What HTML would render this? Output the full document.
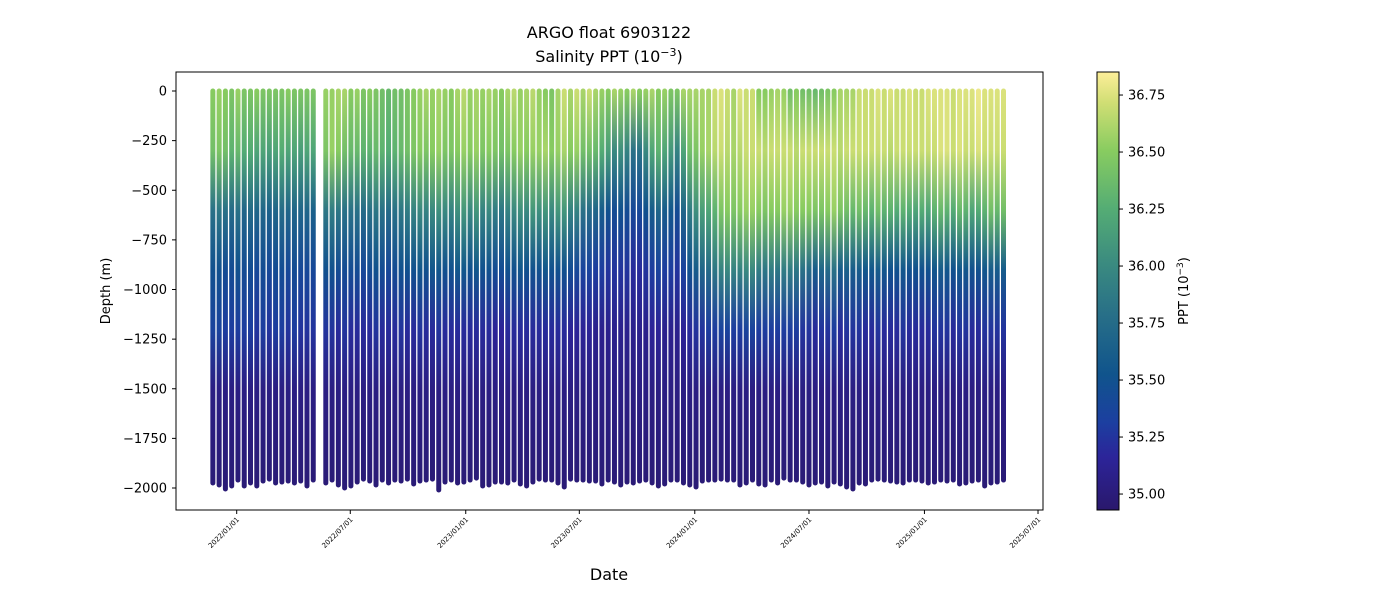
<!DOCTYPE html>
<html><head><meta charset="utf-8"><style>
body{margin:0;background:#fff;}
svg text{font-family:"DejaVu Sans","Liberation Sans",sans-serif;fill:#000;}
</style></head><body>
<svg id="chart" width="1400" height="600" viewBox="0 0 1400 600">
<defs id="defs">
<linearGradient id="cbgrad" x1="0" y1="1" x2="0" y2="0">
<stop offset="0" stop-color="#2a186c"/><stop offset="0.12" stop-color="#2c2499"/><stop offset="0.2" stop-color="#1c3fa0"/><stop offset="0.31" stop-color="#10548c"/><stop offset="0.44" stop-color="#276e88"/><stop offset="0.56" stop-color="#3a8a80"/><stop offset="0.69" stop-color="#55ad74"/><stop offset="0.82" stop-color="#88cc60"/><stop offset="0.93" stop-color="#d0de74"/><stop offset="1" stop-color="#fdee99"/>
</linearGradient>
</defs>
<text x="609" y="38" font-size="16" text-anchor="middle">ARGO float 6903122</text>
<text x="609" y="62" font-size="16" text-anchor="middle">Salinity PPT (10<tspan baseline-shift="super" font-size="11">−3</tspan>)</text>
<g id="bars"></g>
<rect x="176" y="72" width="867" height="438" fill="none" stroke="#000" stroke-width="1"/>
<g id="yaxis"></g>
<g id="xaxis"></g>
<text transform="translate(110,291) rotate(-90)" font-size="13" text-anchor="middle">Depth (m)</text>
<text x="609" y="580" font-size="16" text-anchor="middle">Date</text>
<rect x="1097" y="72" width="22" height="438" fill="url(#cbgrad)" stroke="#000" stroke-width="1"/>
<g id="cbaxis"></g>
<text transform="translate(1188,291) rotate(-90)" font-size="13" text-anchor="middle">PPT (10<tspan baseline-shift="super" font-size="9">−3</tspan>)</text>
</svg>
<script>
const days=[-38,-28,-18,-8,2,12,22,32,42,52,62,72,82,92,102,112,122,142,152,162,172,182,192,202,212,222,232,242,252,262,272,282,292,302,312,322,332,342,352,362,372,382,392,402,412,422,432,442,452,462,472,482,492,502,512,522,532,542,552,562,572,582,592,602,612,622,632,642,652,662,672,682,692,702,712,722,732,742,752,762,772,782,792,802,812,822,832,842,852,862,872,882,892,902,912,922,932,942,952,962,972,982,992,1002,1012,1022,1032,1042,1052,1062,1072,1082,1092,1102,1112,1122,1132,1142,1152,1162,1172,1182,1192,1202,1212,1222];
const maxDepth=[1975,1985,2005,1990,1960,1990,1975,1990,1965,1955,1975,1970,1965,1975,1965,1990,1960,1975,1960,1985,2000,1990,1970,1955,1965,1985,1960,1975,1960,1965,1955,1980,1965,1960,1955,2010,1970,1960,1975,1970,1960,1950,1990,1985,1970,1970,1975,1960,1980,1990,1970,1955,1960,1960,1975,1995,1955,1960,1960,1965,1965,1980,1960,1970,1985,1970,1975,1965,1960,1975,1990,1980,1960,1960,1975,1985,1995,1965,1960,1960,1955,1960,1960,1985,1975,1960,1980,1985,1960,1975,1950,1960,1960,1970,1985,1975,1970,1990,1970,1980,1995,2005,1975,1980,1960,1955,1960,1965,1970,1975,1960,1960,1965,1975,1970,1960,1965,1960,1980,1975,1965,1960,1990,1975,1970,1960];
const s0=[36.5,36.55,36.5,36.45,36.55,36.45,36.45,36.5,36.45,36.45,36.45,36.45,36.5,36.45,36.45,36.45,36.45,36.55,36.55,36.6,36.6,36.5,36.55,36.45,36.5,36.45,36.4,36.35,36.4,36.4,36.45,36.5,36.55,36.6,36.55,36.6,36.55,36.5,36.6,36.65,36.55,36.6,36.55,36.6,36.55,36.5,36.6,36.65,36.55,36.6,36.65,36.55,36.5,36.45,36.6,36.7,36.6,36.7,36.6,36.7,36.6,36.55,36.5,36.6,36.55,36.5,36.6,36.5,36.55,36.6,36.5,36.55,36.45,36.45,36.6,36.6,36.6,36.6,36.6,36.7,36.75,36.7,36.6,36.75,36.7,36.7,36.5,36.5,36.55,36.6,36.55,36.4,36.5,36.4,36.4,36.35,36.4,36.45,36.5,36.6,36.6,36.6,36.7,36.7,36.7,36.75,36.7,36.75,36.7,36.7,36.75,36.7,36.7,36.75,36.75,36.75,36.75,36.7,36.75,36.75,36.75,36.8,36.75,36.75,36.75,36.75];
const s300=[36.4,36.45,36.4,36.3,36.35,36.25,36.25,36.2,36.2,36.15,36.2,36.25,36.2,36.2,36.15,36.2,36.2,36.45,36.55,36.5,36.4,36.35,36.35,36.3,36.3,36.35,36.3,36.25,36.3,36.35,36.4,36.45,36.5,36.45,36.5,36.55,36.45,36.45,36.5,36.55,36.5,36.55,36.45,36.5,36.45,36.4,36.45,36.5,36.55,36.5,36.55,36.55,36.6,36.5,36.55,36.6,36.5,36.55,36.4,36.4,36.35,36.25,36.15,36.0,36.05,35.95,35.8,35.8,36.0,36.2,36.3,36.2,36.1,35.95,36.2,36.4,36.45,36.55,36.6,36.65,36.7,36.65,36.6,36.65,36.7,36.7,36.7,36.65,36.7,36.7,36.7,36.7,36.65,36.7,36.7,36.7,36.7,36.7,36.7,36.65,36.7,36.7,36.7,36.7,36.7,36.7,36.7,36.65,36.7,36.7,36.7,36.7,36.7,36.7,36.7,36.75,36.75,36.7,36.75,36.7,36.7,36.75,36.7,36.7,36.7,36.7];
const s600=[35.8,35.85,35.8,35.75,35.8,35.7,35.75,35.7,35.7,35.65,35.7,35.75,35.7,35.7,35.7,35.7,35.65,35.85,35.9,35.85,35.8,35.8,35.8,35.75,35.8,35.85,35.8,35.75,35.8,35.85,35.9,35.95,36.0,35.95,36.0,36.05,36.0,35.95,36.05,36.1,36.0,36.1,35.95,36.0,35.9,35.85,35.95,36.0,36.05,36.0,36.1,36.05,36.1,36.0,36.1,36.1,35.95,35.95,35.8,35.75,35.7,35.6,35.5,35.45,35.5,35.45,35.4,35.4,35.5,35.6,35.7,35.6,35.55,35.45,35.7,35.9,36.05,36.15,36.2,36.3,36.45,36.5,36.45,36.5,36.55,36.55,36.5,36.45,36.5,36.5,36.55,36.55,36.5,36.5,36.5,36.45,36.45,36.5,36.55,36.45,36.4,36.35,36.4,36.35,36.3,36.4,36.3,36.3,36.25,36.3,36.25,36.2,36.25,36.2,36.3,36.35,36.3,36.25,36.35,36.3,36.2,36.25,36.3,36.4,36.35,36.4];
const s900=[35.5,35.5,35.45,35.45,35.5,35.45,35.45,35.4,35.45,35.4,35.45,35.45,35.4,35.45,35.4,35.4,35.4,35.5,35.5,35.45,35.45,35.45,35.45,35.4,35.45,35.5,35.45,35.4,35.45,35.5,35.5,35.5,35.55,35.5,35.55,35.55,35.5,35.5,35.55,35.55,35.5,35.55,35.5,35.5,35.45,35.45,35.5,35.5,35.55,35.5,35.5,35.5,35.55,35.5,35.5,35.5,35.45,35.4,35.35,35.35,35.3,35.3,35.25,35.25,35.25,35.25,35.2,35.2,35.25,35.3,35.35,35.3,35.3,35.25,35.35,35.5,35.6,35.7,35.75,35.85,35.95,36.0,35.95,35.95,36.0,36.0,35.9,35.85,35.9,35.85,35.9,35.9,35.85,35.8,35.75,35.6,35.7,35.75,35.8,35.6,35.65,35.6,35.6,35.55,35.55,35.6,35.55,35.5,35.5,35.55,35.5,35.5,35.5,35.5,35.55,35.6,35.55,35.5,35.55,35.55,35.5,35.5,35.55,35.6,35.6,35.6];
const s1200=[35.35,35.35,35.3,35.3,35.3,35.3,35.3,35.25,35.3,35.25,35.3,35.3,35.25,35.3,35.25,35.25,35.25,35.25,35.25,35.2,35.25,35.2,35.2,35.2,35.2,35.25,35.2,35.2,35.2,35.25,35.2,35.2,35.25,35.2,35.2,35.25,35.2,35.2,35.2,35.2,35.2,35.2,35.2,35.2,35.15,35.15,35.2,35.2,35.2,35.2,35.2,35.2,35.2,35.2,35.2,35.2,35.15,35.15,35.15,35.15,35.1,35.1,35.1,35.1,35.1,35.1,35.1,35.1,35.1,35.15,35.15,35.1,35.1,35.1,35.15,35.2,35.25,35.25,35.3,35.3,35.35,35.35,35.3,35.3,35.35,35.35,35.3,35.3,35.3,35.3,35.3,35.3,35.3,35.25,35.25,35.2,35.25,35.25,35.3,35.2,35.25,35.25,35.25,35.2,35.2,35.25,35.2,35.2,35.2,35.25,35.2,35.2,35.2,35.2,35.25,35.25,35.25,35.2,35.25,35.25,35.2,35.2,35.25,35.25,35.25,35.25];
const levels=[0,300,600,900,1200,1500,2000];
const deep1500=35.05, deep2000=34.98;
const yTicks=[0,-250,-500,-750,-1000,-1250,-1500,-1750,-2000];
const xTickLabels=["2022/01/01","2022/07/01","2023/01/01","2023/07/01","2024/01/01","2024/07/01","2025/01/01","2025/07/01"];
const xTickDays=[0,181,365,546,730,912,1096,1277];
const cbTicks=[35.00,35.25,35.50,35.75,36.00,36.25,36.50,36.75];

const NS="http://www.w3.org/2000/svg";
function xs(d){return 236.7+d*0.6275;}
function ys(dep){return 91-dep*397/2000;}
const cMin=34.930,cMax=36.851;
function cbY(v){return 510-(v-cMin)/(cMax-cMin)*438;}
const stops=[[0,[42,24,108]],[0.12,[44,36,153]],[0.2,[28,63,160]],[0.31,[16,84,140]],[0.44,[39,110,136]],[0.56,[58,138,128]],[0.69,[85,173,116]],[0.82,[136,204,96]],[0.93,[208,222,116]],[1,[253,238,153]]];
function cmap(v){let t=(v-cMin)/(cMax-cMin);t=Math.max(0,Math.min(1,t));
 for(let i=1;i<stops.length;i++){if(t<=stops[i][0]){const a=stops[i-1],b=stops[i];const f=(t-a[0])/(b[0]-a[0]);
 return 'rgb('+a[1].map((c,k)=>Math.round(c+(b[1][k]-c)*f)).join(',')+')';}}return 'rgb(253,238,153)';}
function mk(tag,attrs,parent){const e=document.createElementNS(NS,tag);for(const k in attrs)e.setAttribute(k,attrs[k]);if(parent)parent.appendChild(e);return e;}
const defs=document.getElementById('defs'),bars=document.getElementById('bars');
days.forEach((d,i)=>{
 const vals=[s0[i],s300[i],s600[i],s900[i],s1200[i],deep1500,deep2000];
 const top=ys(0)-2.5,bot=ys(-maxDepth[i])+2.5;
 const g=mk('linearGradient',{id:'g'+i,gradientUnits:'userSpaceOnUse',x1:0,y1:ys(0),x2:0,y2:ys(-2000)},defs);
 levels.forEach((l,k)=>{mk('stop',{offset:l/2000,'stop-color':cmap(vals[k])},g);});
 const r=mk('rect',{x:xs(d)-2.5,y:top,width:5,height:bot-top,rx:2.5,fill:'url(#g'+i+')'},bars);
 
 
});
const ya=document.getElementById('yaxis');
yTicks.forEach(v=>{const y=ys(v);
 const l=mk('line',{x1:172,x2:176,y1:y,y2:y,stroke:'#000'},ya);
 
 
 const t=mk('text',{x:167,y:y+4.5,'font-size':13,'text-anchor':'end'},ya);t.textContent=String(v).replace('-','−');
 
 
});
const xa=document.getElementById('xaxis');
xTickDays.forEach((d,i)=>{const x=xs(d);
 const l=mk('line',{x1:x,x2:x,y1:510,y2:514,stroke:'#000'},xa);
 
 
 const t=mk('text',{transform:'translate('+(x+3)+',520) rotate(-45)','font-size':7,'text-anchor':'end'},xa);t.textContent=xTickLabels[i];
 
 
});
const ca=document.getElementById('cbaxis');
cbTicks.forEach(v=>{const y=cbY(v);
 const l=mk('line',{x1:1119,x2:1123,y1:y,y2:y,stroke:'#000'},ca);
 
 
 const t=mk('text',{x:1128,y:y+4.5,'font-size':13},ca);t.textContent=v.toFixed(2);
 
 
});
</script>
</body></html>
